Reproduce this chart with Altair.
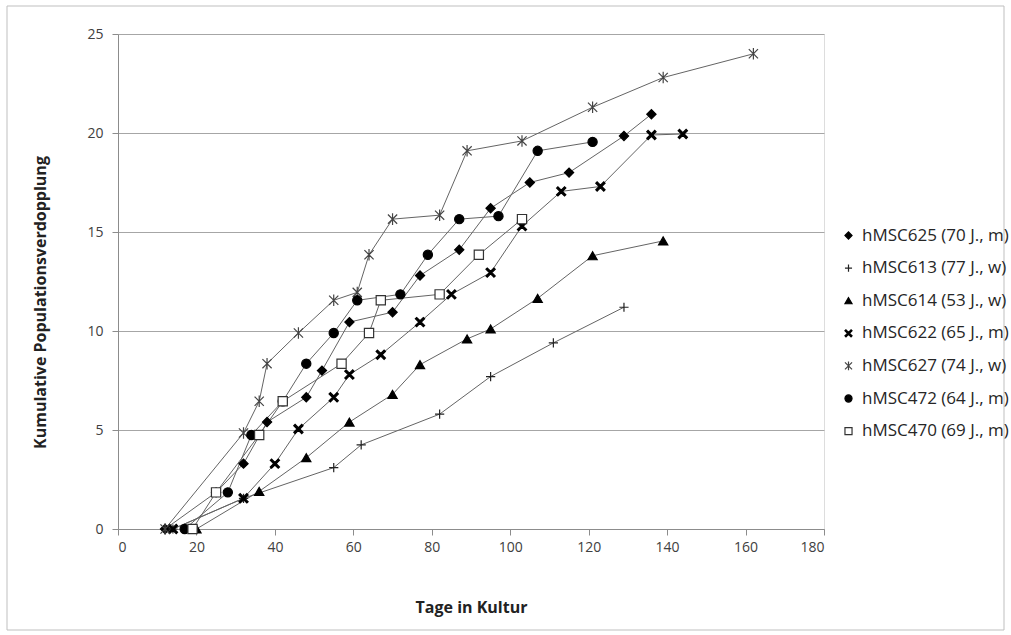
import altair as alt
import pandas as pd

series_names = [
    "hMSC625 (70 J., m)",
    "hMSC613 (77 J., w)",
    "hMSC614 (53 J., w)",
    "hMSC622 (65 J., m)",
    "hMSC627 (74 J., w)",
    "hMSC472 (64 J., m)",
    "hMSC470 (69 J., m)",
]

days_625 = [12, 25, 32, 38, 48, 52, 59, 70, 77, 87, 95, 105, 115, 129, 136]
pd_625 = [0, 1.85, 3.3, 5.4, 6.65, 8.0, 10.45, 10.95, 12.8, 14.1, 16.2, 17.5, 18.0, 19.85, 20.95]

days_613 = [14, 32, 55, 62, 82, 95, 111, 129]
pd_613 = [0, 1.55, 3.1, 4.25, 5.8, 7.7, 9.4, 11.2]

days_614 = [20, 36, 48, 59, 70, 77, 89, 95, 107, 121, 139]
pd_614 = [0, 1.9, 3.6, 5.4, 6.8, 8.3, 9.6, 10.1, 11.65, 13.8, 14.55]

days_622 = [14, 32, 40, 46, 55, 59, 67, 77, 85, 95, 103, 113, 123, 136, 144]
pd_622 = [0, 1.55, 3.3, 5.05, 6.65, 7.8, 8.8, 10.45, 11.85, 12.95, 15.3, 17.05, 17.3, 19.9, 19.95]

days_627 = [12, 32, 36, 38, 46, 55, 61, 64, 70, 82, 89, 103, 121, 139, 162]
pd_627 = [0, 4.85, 6.45, 8.35, 9.9, 11.55, 11.95, 13.85, 15.65, 15.85, 19.1, 19.6, 21.3, 22.8, 24.0]

days_472 = [17, 28, 34, 42, 48, 55, 61, 72, 79, 87, 97, 107, 121]
pd_472 = [0, 1.85, 4.75, 6.45, 8.35, 9.9, 11.55, 11.85, 13.85, 15.65, 15.8, 19.1, 19.55]

days_470 = [19, 25, 36, 42, 57, 64, 67, 82, 92, 103]
pd_470 = [0, 1.85, 4.75, 6.45, 8.35, 9.9, 11.55, 11.85, 13.85, 15.65]

all_days = [days_625, days_613, days_614, days_622, days_627, days_472, days_470]
all_pd = [pd_625, pd_613, pd_614, pd_622, pd_627, pd_472, pd_470]

x_ticks = [0, 20, 40, 60, 80, 100, 120, 140, 160, 180]
y_ticks = [0, 5, 10, 15, 20, 25]

rows = []
for name, ds, vs in zip(series_names, all_days, all_pd):
    for d, v in zip(ds, vs):
        rows.append({"series": name, "day": d, "pd": v})
df = pd.DataFrame(rows)

shapes = [
    "diamond",
    "M-1,0L1,0M0,-1L0,1",
    "triangle-up",
    "M-1,-0.72L-0.72,-1L0,-0.28L0.72,-1L1,-0.72L0.28,0L1,0.72L0.72,1L0,0.28L-0.72,1L-1,0.72L-0.28,0Z",
    "M-1,-1L1,1M-1,1L1,-1M0,-1.25L0,1.25",
    "circle",
    "square",
]
fills = ["black", "transparent", "black", "black", "transparent", "black", "white"]
strokes = ["black", "#222222", "black", "black", "#444444", "black", "#333333"]

font = "Open Sans"

x_enc = alt.X("day:Q", scale=alt.Scale(domain=[0, 180], nice=False),
              axis=alt.Axis(values=x_ticks, title="Tage in Kultur", grid=False,
                            domainColor="#8c8c8c", tickColor="#8c8c8c", tickSize=6,
                            labelFontSize=14, labelColor="#404040", labelFont=font,
                            labelPadding=5, titleFont=font, titleFontSize=16,
                            titleFontWeight="bold", titleColor="#222222", titlePadding=45))
y_enc = alt.Y("pd:Q", scale=alt.Scale(domain=[0, 25], nice=False),
              axis=alt.Axis(values=y_ticks, title="Kumulative Populationsverdopplung",
                            grid=True, gridColor="#a6a6a6", gridWidth=1,
                            domainColor="#8c8c8c", tickColor="#8c8c8c", tickSize=6,
                            labelFontSize=14, labelColor="#404040", labelFont=font,
                            labelPadding=9, titleFont=font, titleFontSize=16,
                            titleFontWeight="bold", titleColor="#222222", titlePadding=38,
                            titleY=268))

lines = alt.Chart(df).mark_line(color="#646464", strokeWidth=1).encode(
    x=x_enc, y=y_enc, detail="series:N", order="day:Q")

dom = series_names
legend = alt.Legend(title=None, orient="none", legendX=722, legendY=193,
                    labelFontSize=17, labelFont=font, labelColor="#262626",
                    symbolSize=50, rowPadding=14.6, labelOffset=5,
                    symbolStrokeWidth=1.2)
points = alt.Chart(df).mark_point(opacity=1, fillOpacity=1, size=85, strokeWidth=1.2).encode(
    x="day:Q", y="pd:Q",
    shape=alt.Shape("series:N", scale=alt.Scale(domain=dom, range=shapes), legend=legend),
    fill=alt.Fill("series:N", scale=alt.Scale(domain=dom, range=fills), legend=legend),
    stroke=alt.Stroke("series:N", scale=alt.Scale(domain=dom, range=strokes), legend=legend),
)

border = alt.Chart(pd.DataFrame({"a": [0]})).mark_rect(
    fill="transparent", stroke="#bfbfbf", strokeWidth=1).encode(
    x=alt.value(-111), x2=alt.value(886), y=alt.value(-28), y2=alt.value(596))

chart = alt.layer(border, lines, points).properties(
    width=706, height=495,
    autosize=alt.AutoSizeParams(type="none"),
    padding={"left": 118, "top": 34, "right": 187, "bottom": 106},
).configure_view(stroke=None).configure(background="white")

chart.save("out.html", embed_options={"renderer": "svg", "actions": False})
